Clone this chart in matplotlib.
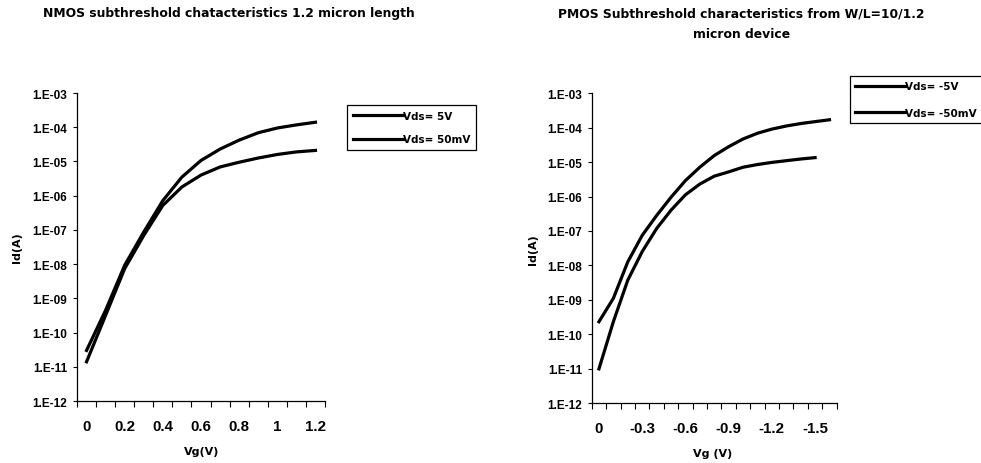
import matplotlib
matplotlib.use("Agg")
import matplotlib.pyplot as plt

plt.rcParams['font.family'] = ['DejaVu Sans']
plt.rcParams['font.weight'] = 'bold'
TICK_FONT = 'Liberation Sans'

# NMOS, L = 1.2 um
nmos_vg = [0, 0.1, 0.2, 0.3, 0.4, 0.5, 0.6, 0.7, 0.8, 0.9, 1.0, 1.1, 1.2]
nmos_id_5v = [3.0e-11, 4.5e-10, 9.3e-9, 8.7e-8, 7.2e-7, 3.5e-6, 1.07e-5,
              2.3e-5, 4.2e-5, 6.9e-5, 9.5e-5, 1.17e-4, 1.4e-4]
nmos_id_50mv = [1.4e-11, 3.2e-10, 7.4e-9, 6.9e-8, 5.2e-7, 1.8e-6, 4.0e-6,
                6.9e-6, 9.5e-6, 1.26e-5, 1.6e-5, 1.9e-5, 2.1e-5]

# PMOS, W/L = 10/1.2 um
pmos_vg = [0, -0.1, -0.2, -0.3, -0.4, -0.5, -0.6, -0.7, -0.8, -0.9, -1.0,
           -1.1, -1.2, -1.3, -1.4, -1.5, -1.6]
pmos_id_5v = [2.3e-10, 1.1e-9, 1.26e-8, 7.4e-8, 2.8e-7, 9.5e-7, 2.9e-6,
              7.1e-6, 1.55e-5, 2.8e-5, 4.7e-5, 6.9e-5, 9.1e-5, 1.12e-4,
              1.32e-4, 1.5e-4, 1.7e-4]
pmos_vg_50mv = pmos_vg[:16]
pmos_id_50mv = [9.8e-12, 2.3e-10, 3.7e-9, 2.5e-8, 1.17e-7, 4.0e-7, 1.12e-6,
                2.3e-6, 3.9e-6, 5.2e-6, 7.1e-6, 8.5e-6, 9.8e-6, 1.1e-5,
                1.23e-5, 1.35e-5]

decades = [1e-3, 1e-4, 1e-5, 1e-6, 1e-7, 1e-8, 1e-9, 1e-10, 1e-11, 1e-12]
decade_labels = ['1.E-03', '1.E-04', '1.E-05', '1.E-06', '1.E-07',
                 '1.E-08', '1.E-09', '1.E-10', '1.E-11', '1.E-12']

nmos_ticks = [0, 0.2, 0.4, 0.6, 0.8, 1.0, 1.2]
nmos_ticklabels = ['0', '0.2', '0.4', '0.6', '0.8', '1', '1.2']
pmos_ticks = [0, -0.3, -0.6, -0.9, -1.2, -1.5]
pmos_ticklabels = ['0', '-0.3', '-0.6', '-0.9', '-1.2', '-1.5']

fig = plt.figure(figsize=(9.81, 4.64), dpi=100)
ax1 = fig.add_axes([0.0785, 0.1336, 0.2528, 0.6638])
ax2 = fig.add_axes([0.6032, 0.1293, 0.2497, 0.6675])


def style_axis(ax, cats, ticks, ticklabels, step):
    ax.set_yscale('log')
    ax.set_ylim(1e-12, 1e-3)
    ax.set_yticks(decades)
    ax.set_yticklabels(decade_labels, fontsize=8.5, fontweight='bold',
                       family=TICK_FONT)
    ax.yaxis.set_minor_locator(matplotlib.ticker.NullLocator())
    ax.tick_params(axis='y', direction='out', length=3, width=0.8, pad=4)
    # category boundaries get the tick marks, labels sit on the centers
    bounds = [c - step / 2 for c in cats] + [cats[-1] + step / 2]
    ax.set_xticks(bounds, minor=True)
    ax.set_xticks(ticks)
    ax.set_xticklabels(ticklabels, fontsize=10.8, fontweight='bold',
                       family=TICK_FONT)
    ax.tick_params(axis='x', which='major', length=0, pad=13)
    ax.tick_params(axis='x', which='minor', direction='out', length=4, width=0.8)
    ax.set_xlim(bounds[0], bounds[-1])
    for s in ['top', 'right']:
        ax.spines[s].set_visible(False)
    for s in ['left', 'bottom']:
        ax.spines[s].set_linewidth(0.9)


style_axis(ax1, nmos_vg, nmos_ticks, nmos_ticklabels, 0.1)
style_axis(ax2, pmos_vg, pmos_ticks, pmos_ticklabels, -0.1)

lw = 2.3
ax1.plot(nmos_vg, nmos_id_5v, color='black', lw=lw, label='Vds= 5V')
ax1.plot(nmos_vg, nmos_id_50mv, color='black', lw=lw, label='Vds= 50mV')
ax2.plot(pmos_vg, pmos_id_5v, color='black', lw=lw, label='Vds= -5V')
ax2.plot(pmos_vg_50mv, pmos_id_50mv, color='black', lw=lw, label='Vds= -50mV')

ax1.set_ylabel('Id(A)', fontsize=8, fontweight='bold')
ax1.yaxis.set_label_coords(-0.222, 0.5)
ax1.set_xlabel('Vg(V)', fontsize=8, fontweight='bold')
ax1.xaxis.set_label_coords(0.504, -0.146)
ax2.set_ylabel('Id(A)', fontsize=8, fontweight='bold')
ax2.yaxis.set_label_coords(-0.219, 0.5)
ax2.set_xlabel('Vg (V)', fontsize=8, fontweight='bold')
ax2.xaxis.set_label_coords(0.495, -0.145)

fig.text(0.233, 0.97, 'NMOS subthreshold chatacteristics 1.2 micron length',
         ha='center', va='center', fontsize=8.95, fontweight='bold')
fig.text(0.756, 0.948, 'PMOS Subthreshold characteristics from W/L=10/1.2\nmicron device',
         ha='center', va='center', fontsize=8.95, fontweight='bold', linespacing=1.7)

leg_kw = dict(loc='upper left', bbox_transform=fig.transFigure, borderaxespad=0,
              fancybox=False, edgecolor='black', framealpha=1,
              prop={'size': 7.5, 'weight': 'bold'},
              handlelength=4.8, handletextpad=0.0)
l1 = ax1.legend(bbox_to_anchor=(347 / 981, 1 - 106 / 464), labelspacing=1.3,
                borderpad=0.55, **leg_kw)
l2 = ax2.legend(bbox_to_anchor=(850 / 981, 1 - 77 / 464), labelspacing=1.6,
                borderpad=0.5, **leg_kw)
for lg in (l1, l2):
    lg.get_frame().set_linewidth(0.9)

fig.savefig('out.png', dpi=100)
